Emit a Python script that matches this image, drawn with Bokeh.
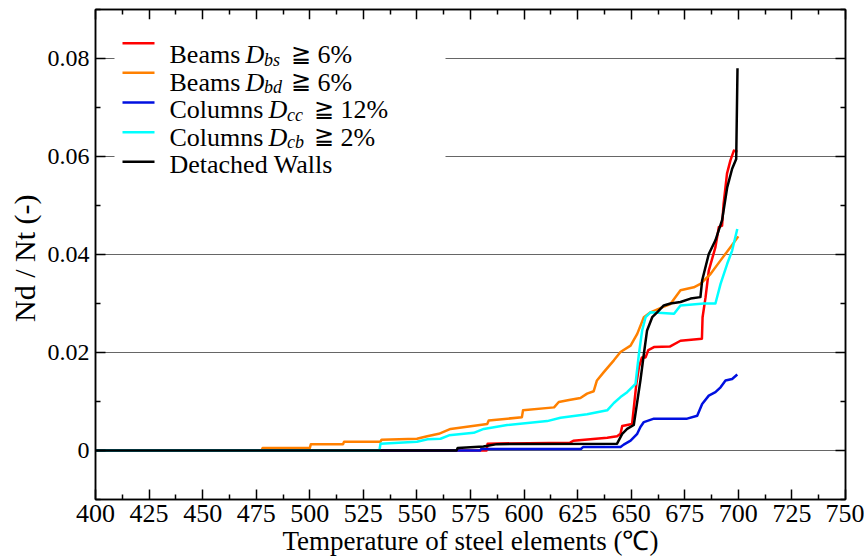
from bokeh.plotting import figure
from bokeh.models import (Range1d, LinearAxis, FixedTicker, CustomJSTickFormatter,
                          Label, BoxAnnotation)
from bokeh.embed import file_html
from bokeh.resources import INLINE

# ---------------- data ----------------
beams_bs_T = [400, 582.5, 583, 621.5, 623, 638.8, 643.4, 645, 645.8, 650.4, 652.4, 653.6, 655,
              656.7, 658, 660.6, 668, 673, 683, 683.3, 684.7, 686.2, 689.3, 690.9, 692.4, 693.1,
              694.7, 696.3, 697.9, 699.6]
beams_bs_v = [0, 0, 0.0014, 0.0016, 0.002, 0.0026, 0.0029, 0.0034, 0.005, 0.0054, 0.0136, 0.017, 0.019,
              0.019, 0.0205, 0.0211, 0.0212, 0.0224, 0.0228, 0.0272, 0.0313, 0.0367, 0.0415, 0.0456, 0.0459, 0.0503,
              0.0565, 0.0592, 0.0612, 0.061]

beams_bd_T = [400, 477.5, 478, 500, 500.5, 515.5, 516, 533, 533.5, 550, 554.8, 560.2, 565.7, 582.8,
              583.5, 599, 599.5, 614, 616.2, 621, 626.3, 629.4, 632.5, 634, 637.2, 641.9, 645, 649.7,
              652.8, 655.9, 659, 664.4, 668.3, 673, 679.2, 682.3, 687, 691.7, 696.3, 700]
beams_bd_v = [0, 0, 0.0005, 0.0005, 0.0013, 0.0013, 0.0018, 0.0018, 0.0022, 0.0024, 0.0029, 0.0034, 0.0044, 0.0054,
              0.0061, 0.0068, 0.0082, 0.0088, 0.0099, 0.0103, 0.0107, 0.0116, 0.0121, 0.0143, 0.016, 0.0184, 0.0201, 0.0214,
              0.0238, 0.0272, 0.0282, 0.0292, 0.0299, 0.0327, 0.0333, 0.034, 0.036, 0.0388, 0.0415, 0.0437]

cols_cc_T = [400, 579.5, 580, 626.5, 627.5, 645, 646.5, 649.7, 652.8, 654.3, 655.9, 660.6, 676.1, 680.8,
             683.1, 686.2, 689.3, 691.7, 694, 697.1, 699.5]
cols_cc_v = [0, 0, 0.0003, 0.0003, 0.0007, 0.0007, 0.0012, 0.002, 0.0034, 0.0048, 0.0058, 0.0065, 0.0065, 0.0071,
             0.0095, 0.0112, 0.0119, 0.0129, 0.0143, 0.0146, 0.0155]

cols_cb_T = [400, 532.5, 533, 550, 555, 561, 565, 576.5, 581.2, 592.1, 610.8, 617, 629.4, 638.8, 641.9,
             645, 648.1, 652, 653.6, 655.1, 656.7, 659, 670, 673, 683.9, 689.3, 691.7, 694.8, 697.1, 699.5]
cols_cb_v = [0, 0, 0.0014, 0.0018, 0.0023, 0.0024, 0.0031, 0.0036, 0.0044, 0.0052, 0.006, 0.0067, 0.0074, 0.0082, 0.0097,
             0.0109, 0.0119, 0.0136, 0.0197, 0.0245, 0.0272, 0.0282, 0.0279, 0.0296, 0.030, 0.030, 0.034, 0.0381, 0.0408, 0.0452]

walls_T = [400, 568.5, 569, 581, 587.4, 643.4, 645.8, 648.1, 651.2, 654.3, 655.9, 657.4, 659.8, 662.1,
           665.2, 668.3, 673, 677.7, 682.3, 683.1, 686.2, 689.3, 692.4, 694.8, 697.1, 699.0, 699.6]
walls_v = [0, 0, 0.0005, 0.0008, 0.0013, 0.0014, 0.0034, 0.0044, 0.0052, 0.0143, 0.0197, 0.0245, 0.0272, 0.0282,
           0.0296, 0.030, 0.0303, 0.031, 0.0313, 0.0347, 0.0401, 0.0429, 0.047, 0.0537, 0.0575, 0.0595, 0.078]

series_names = ["Beams", "Beams", "Columns", "Columns", "Detached Walls"]
series_sub = ["bs", "bd", "cc", "cb", ""]
series_pct = ["6%", "6%", "12%", "2%", ""]
series_colors = ["#ff0000", "#ff8000", "#0010e0", "#00ffff", "#000000"]

x_ticks = [400, 425, 450, 475, 500, 525, 550, 575, 600, 625, 650, 675, 700, 725, 750]
x_minor = [412.5, 437.5, 462.5, 487.5, 512.5, 537.5, 562.5, 587.5, 612.5, 637.5, 662.5, 687.5, 712.5, 737.5]
y_ticks = [0, 0.02, 0.04, 0.06, 0.08]
y_tick_labels = ["0", "0.02", "0.04", "0.06", "0.08"]
y_minor = [-0.01, 0.01, 0.03, 0.05, 0.07, 0.09]

FONT = "Liberation Serif"

p = figure(width=864, height=560, output_backend="svg", toolbar_location=None,
           x_range=Range1d(400, 750), y_range=Range1d(-0.01, 0.09),
           min_border_left=95, min_border_right=19, min_border_top=9, min_border_bottom=61,
           background_fill_color="white", border_fill_color="white")
p.outline_line_color = "black"
p.outline_line_width = 1.5

bottom_ax = p.below[0]
left_ax = p.left[0]

xt = FixedTicker(ticks=x_ticks, minor_ticks=x_minor)
yt = FixedTicker(ticks=y_ticks, minor_ticks=y_minor)
bottom_ax.ticker = xt
left_ax.ticker = yt
p.xgrid.visible = False
p.ygrid.ticker = yt
p.ygrid.grid_line_color = "#666666"
p.ygrid.grid_line_width = 1

left_ax.formatter = CustomJSTickFormatter(args=dict(vals=y_ticks, labs=y_tick_labels), code="""
    for (let i = 0; i < vals.length; i++) { if (Math.abs(vals[i] - tick) < 1e-9) return labs[i]; }
    return '';
""")

blank = CustomJSTickFormatter(code="return '';")
top_ax = LinearAxis(ticker=xt, formatter=blank)
right_ax = LinearAxis(ticker=yt, formatter=blank)
p.add_layout(top_ax, "above")
p.add_layout(right_ax, "right")

for ax in [bottom_ax, left_ax, top_ax, right_ax]:
    ax.major_tick_in = 10
    ax.major_tick_out = 0
    ax.minor_tick_in = 5
    ax.minor_tick_out = 0
    ax.axis_line_color = "black"
    ax.axis_line_width = 1.5
    ax.major_tick_line_color = "black"
    ax.major_tick_line_width = 1.5
    ax.minor_tick_line_color = "black"
    ax.minor_tick_line_width = 1.5
    ax.major_label_text_font = FONT
    ax.major_label_text_color = "black"
    ax.axis_label_text_font = FONT
    ax.axis_label_text_font_style = "normal"
    ax.axis_label_text_color = "black"

for ax in [top_ax, right_ax]:
    ax.major_label_standoff = 0
    ax.major_label_text_font_size = "1px"

bottom_ax.major_label_text_font_size = "26px"
bottom_ax.major_label_standoff = 5
bottom_ax.axis_label = "Temperature of steel elements (℃)"
bottom_ax.axis_label_text_font_size = "27px"
bottom_ax.axis_label_standoff = 1

left_ax.major_label_text_font_size = "24px"
left_ax.major_label_standoff = 6
left_ax.axis_label = "Nd / Nt  (-)"
left_ax.axis_label_text_font_size = "30px"
left_ax.axis_label_standoff = 4

all_T = [beams_bs_T, beams_bd_T, cols_cc_T, cols_cb_T, walls_T]
all_v = [beams_bs_v, beams_bd_v, cols_cc_v, cols_cb_v, walls_v]
for T, v, c in zip(all_T, all_v, series_colors):
    p.line(T, v, line_color=c, line_width=2.5, line_join="round")

# ---------------- legend (screen units, relative to the frame) ----------------
p.add_layout(BoxAnnotation(left=19, right=350, top=480, bottom=320,
                           left_units="screen", right_units="screen",
                           top_units="screen", bottom_units="screen",
                           fill_color="white", fill_alpha=1.0, line_color=None))

swatch_y = [456.3, 426.7, 397, 367.3, 337.7]   # swatch centre, from frame bottom
text_base = [445, 417.5, 390, 362.5, 335]       # text baseline, from frame bottom
for i in range(5):
    y0 = swatch_y[i]
    p.add_layout(BoxAnnotation(left=27, right=59, top=y0 + 1.3, bottom=y0 - 1.3,
                               left_units="screen", right_units="screen",
                               top_units="screen", bottom_units="screen",
                               fill_color=series_colors[i], fill_alpha=1.0, line_color=None))
    base = text_base[i]
    p.add_layout(Label(x=74, y=base, x_units="screen", y_units="screen", text=series_names[i],
                       text_font=FONT, text_font_size="26px", text_baseline="alphabetic",
                       text_color="black"))
    if series_sub[i]:
        dx = 150 if series_names[i] == "Beams" else 173
        p.add_layout(Label(x=dx, y=base, x_units="screen", y_units="screen", text="D",
                           text_font=FONT, text_font_size="26px", text_font_style="italic",
                           text_baseline="alphabetic", text_color="black"))
        p.add_layout(Label(x=dx + 18.5, y=base - 5, x_units="screen", y_units="screen", text=series_sub[i],
                           text_font=FONT, text_font_size="18px", text_font_style="italic",
                           text_baseline="alphabetic", text_color="black"))
        p.add_layout(Label(x=dx + 45, y=base + 1, x_units="screen", y_units="screen", text="≧",
                           text_font=FONT, text_font_size="24px",
                           text_baseline="alphabetic", text_color="black"))
        p.add_layout(Label(x=dx + 72, y=base, x_units="screen", y_units="screen", text=series_pct[i],
                           text_font=FONT, text_font_size="26px",
                           text_baseline="alphabetic", text_color="black"))

open("out.html", "w").write(file_html(p, INLINE))
